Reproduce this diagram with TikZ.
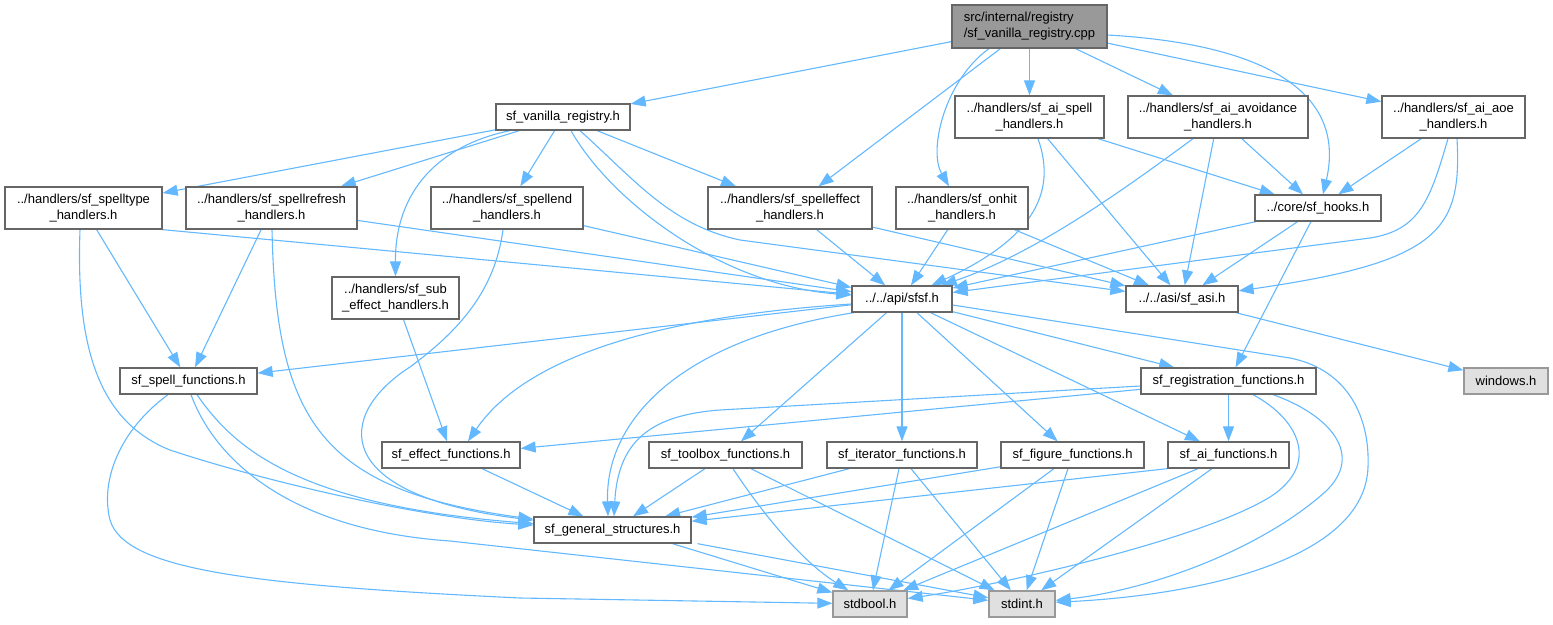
\documentclass[tikz,border=0pt]{standalone}
\usepackage{fontspec}
\setmainfont{Liberation Sans}
\usetikzlibrary{arrows.meta}
\definecolor{edgec}{HTML}{63B8FF}
\definecolor{bord}{HTML}{666666}
\definecolor{rootf}{HTML}{999999}
\definecolor{sysf}{HTML}{E0E0E0}
\definecolor{sysb}{HTML}{999999}
\pgfdeclarelayer{bg}
\pgfsetlayers{bg,main}
\begin{document}
\begin{tikzpicture}[x=1pt,y=-1pt,
  box/.style={draw=bord, fill=white, line width=1.3pt, inner sep=0pt, align=center,
    font=\fontsize{13}{16}\selectfont, text=black},
  rootbox/.style={box, fill=rootf, align=left},
  sysbox/.style={box, fill=sysf, draw=sysb},
  e/.style={draw=edgec, line width=1.1pt, -{Triangle[length=15pt,width=11pt]}}]
\useasboundingbox (0,0) rectangle (1553,624);

% nodes
\node[rootbox, minimum width=155pt, minimum height=43pt] (root) at (1029.5,26.5) {src/internal/registry\\/sf\_vanilla\_registry.cpp};
\node[box, minimum width=134pt, minimum height=26pt] (vr) at (563,117) {sf\_vanilla\_registry.h};
\node[box, minimum width=149pt, minimum height=42pt] (aisp) at (1029.5,117) {../handlers/sf\_ai\_spell\\\_handlers.h};
\node[box, minimum width=180pt, minimum height=42pt] (aiav) at (1218,117) {../handlers/sf\_ai\_avoidance\\\_handlers.h};
\node[box, minimum width=143pt, minimum height=42pt] (aiaoe) at (1453.5,117) {../handlers/sf\_ai\_aoe\\\_handlers.h};
\node[box, minimum width=157pt, minimum height=42pt] (stype) at (83.5,208) {../handlers/sf\_spelltype\\\_handlers.h};
\node[box, minimum width=171pt, minimum height=42pt] (sref) at (271.5,208) {../handlers/sf\_spellrefresh\\\_handlers.h};
\node[box, minimum width=152pt, minimum height=42pt] (send) at (507,208) {../handlers/sf\_spellend\\\_handlers.h};
\node[box, minimum width=164pt, minimum height=42pt] (seff) at (790,208) {../handlers/sf\_spelleffect\\\_handlers.h};
\node[box, minimum width=132pt, minimum height=42pt] (onhit) at (962,208) {../handlers/sf\_onhit\\\_handlers.h};
\node[box, minimum width=126pt, minimum height=26pt] (hooks) at (1318,208) {../core/sf\_hooks.h};
\node[box, minimum width=127pt, minimum height=42pt] (subeff) at (395.5,298) {../handlers/sf\_sub\\\_effect\_handlers.h};
\node[box, minimum width=100pt, minimum height=26pt] (sfsf) at (902,299) {../../api/sfsf.h};
\node[box, minimum width=112pt, minimum height=26pt] (asi) at (1182,299) {../../asi/sf\_asi.h};
\node[box, minimum width=137pt, minimum height=26pt] (spfn) at (188.5,381) {sf\_spell\_functions.h};
\node[box, minimum width=175pt, minimum height=26pt] (regfn) at (1228.5,381) {sf\_registration\_functions.h};
\node[sysbox, minimum width=84pt, minimum height=26pt] (win) at (1506,381) {windows.h};
\node[box, minimum width=138pt, minimum height=26pt] (efffn) at (451,455) {sf\_effect\_functions.h};
\node[box, minimum width=153pt, minimum height=26pt] (tbfn) at (725.5,455) {sf\_toolbox\_functions.h};
\node[box, minimum width=150pt, minimum height=26pt] (itfn) at (902,455) {sf\_iterator\_functions.h};
\node[box, minimum width=143pt, minimum height=26pt] (figfn) at (1072.5,455) {sf\_figure\_functions.h};
\node[box, minimum width=121pt, minimum height=26pt] (aifn) at (1228.5,455) {sf\_ai\_functions.h};
\node[box, minimum width=157pt, minimum height=26pt] (gen) at (612.5,530) {sf\_general\_structures.h};
\node[sysbox, minimum width=74pt, minimum height=26pt] (sbool) at (870,604) {stdbool.h};
\node[sysbox, minimum width=66pt, minimum height=26pt] (sint) at (1022,604) {stdint.h};

\begin{pgfonlayer}{bg}
% root
\draw[e] (root) -- (vr);
\draw[e] (root) -- (seff);
\draw[e] (root) -- (aisp);
\draw[e] (root) -- (aiav);
\draw[e] (root) -- (aiaoe);
\draw[e] ([xshift=-40.5pt]root.south) .. controls (945,80) and (928,150) .. ([xshift=-13pt]onhit.north);
\draw[e] ([yshift=-8.5pt]root.east) .. controls (1280,45) and (1345,100) .. ([xshift=5pt]hooks.north);
% sf_vanilla_registry.h
\draw[e] (vr) -- (stype);
\draw[e] (vr) -- (sref);
\draw[e] ([xshift=-53pt]vr.south) .. controls (440,145) and (395,190) .. (subeff.north);
\draw[e] (vr) -- (send);
\draw[e] (vr) -- (seff);
\draw[e] ([xshift=8pt]vr.south) .. controls (610,200) and (720,285) .. (sfsf);
\draw[e] ([xshift=17pt]vr.south) .. controls (635,180) and (670,225) .. (740,240) -- (asi);
% spelltype
\draw[e] (stype) -- (spfn);
\draw[e] ([xshift=-3.5pt]stype.south) .. controls (76,340) and (95,420) .. (170,450) .. controls (260,480) and (420,518) .. (gen);
\draw[e] (stype.south east) -- (sfsf);
% spellrefresh
\draw[e] (sref) -- (spfn);
\draw[e] ([xshift=0.5pt]sref.south) .. controls (276,420) and (320,490) .. (gen);
\draw[e] (sref) -- (sfsf);
% spellend
\draw[e] ([xshift=-4pt]send.south) .. controls (495,290) and (460,330) .. (410,367) .. controls (335,415) and (330,495) .. (gen);
\draw[e] (send) -- (sfsf);
% sub effect
\draw[e] ([xshift=8pt]subeff.south) -- ([xshift=-4pt]efffn.north);
% spelleffect, onhit
\draw[e] (seff) -- (sfsf);
\draw[e] (seff) -- (asi);
\draw[e] (onhit) -- (sfsf);
\draw[e] (onhit) -- (asi);
% ai spell
\draw[e] ([xshift=8.5pt]aisp.south) .. controls (1058,195) and (1030,240) .. (sfsf);
\draw[e] (aisp) -- (asi);
\draw[e] (aisp) -- (hooks);
% ai avoidance
\draw[e] ([xshift=-25pt]aiav.south) .. controls (1110,200) and (1030,255) .. (sfsf);
\draw[e] (aiav) -- (asi);
\draw[e] (aiav) -- (hooks);
% ai aoe
\draw[e] (aiaoe) -- (hooks);
\draw[e] ([xshift=-5.5pt]aiaoe.south) .. controls (1430,200) and (1420,230) .. (1370,238) -- (sfsf);
\draw[e] ([xshift=3.5pt]aiaoe.south) .. controls (1462,230) and (1440,262) .. (asi);
% hooks
\draw[e] (hooks) -- (sfsf);
\draw[e] (hooks) -- (asi);
\draw[e] (hooks) -- (regfn);
% asi
\draw[e] (asi) -- (win);
% sfsf
\draw[e] (sfsf) -- (spfn);
\draw[e] ([yshift=-5pt]sfsf.west) .. controls (680,315) and (530,350) .. ([xshift=17pt]efffn.north);
\draw[e] ([xshift=-48pt]sfsf.south) .. controls (680,340) and (605,420) .. ([xshift=-4.5pt]gen.north);
\draw[e] (sfsf) -- (tbfn);
\draw[e] (sfsf) -- (itfn);
\draw[e] (sfsf) -- (figfn);
\draw[e] (sfsf) -- (aifn);
\draw[e] (sfsf) -- (regfn);
\draw[e] ([yshift=-6pt]sfsf.east) -- (1290,358) .. controls (1350,370) and (1370,420) .. (1368,467) .. controls (1365,560) and (1200,595) .. (sint);
% spell functions
\draw[e] ([xshift=8.5pt]spfn.south) .. controls (235,450) and (300,505) .. (gen);
\draw[e] ([xshift=-20.5pt]spfn.south) .. controls (120,430) and (100,480) .. (110,520) .. controls (125,570) and (250,585) .. (520,598) -- (sbool);
\draw[e] ([xshift=2.5pt]spfn.south) .. controls (215,460) and (290,530) .. (450,541) -- (sint);
% registration functions
\draw[e] (regfn) -- (aifn);
\draw[e] (regfn) -- (efffn);
\draw[e] ([yshift=-5pt]regfn.west) -- (720,410) .. controls (652,415) and (618,440) .. ([xshift=1.5pt]gen.north);
\draw[e] ([xshift=24.5pt]regfn.south) .. controls (1300,420) and (1320,465) .. (1270,497) .. controls (1200,540) and (1000,585) .. (sbool);
\draw[e] ([xshift=44.5pt]regfn.south) .. controls (1330,415) and (1365,455) .. (1325,492) .. controls (1260,550) and (1150,590) .. (sint);
% effect functions
\draw[e] ([xshift=31pt]efffn.south) -- (gen);
% toolbox
\draw[e] (tbfn) -- (gen);
\draw[e] ([xshift=7.5pt]tbfn.south) .. controls (760,510) and (800,560) .. (sbool);
\draw[e] ([xshift=25.5pt]tbfn.south) -- (sint);
% iterator
\draw[e] (itfn) -- (gen);
\draw[e] ([xshift=-3pt]itfn.south) -- (sbool);
\draw[e] ([xshift=9pt]itfn.south) -- (sint);
% figure
\draw[e] (figfn) -- (gen);
\draw[e] (figfn) -- (sbool);
\draw[e] ([xshift=-4.5pt]figfn.south) -- (sint);
% ai functions
\draw[e] (aifn.south west) -- (gen);
\draw[e] ([xshift=-30.5pt]aifn.south) -- (sbool);
\draw[e] ([xshift=-16.5pt]aifn.south) -- (sint);
% general structures
\draw[e] ([xshift=60pt]gen.south) -- (sbool);
\draw[e] ([xshift=85pt]gen.south) -- (sint);
\end{pgfonlayer}
\end{tikzpicture}
\end{document}
